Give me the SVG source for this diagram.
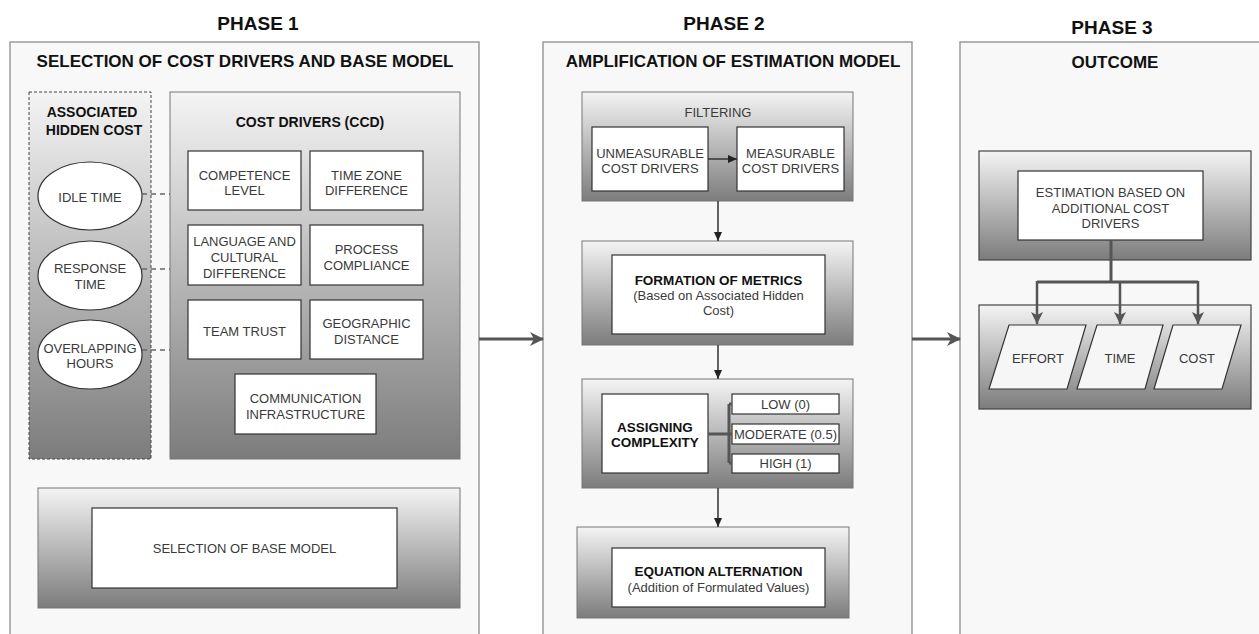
<svg xmlns="http://www.w3.org/2000/svg" width="1259" height="634" viewBox="0 0 1259 634">
<defs>
<linearGradient id="g" x1="0" y1="0" x2="0" y2="1">
<stop offset="0" stop-color="#f4f4f4"/>
<stop offset="1" stop-color="#7c7c7c"/>
</linearGradient>
<marker id="big" markerUnits="userSpaceOnUse" markerWidth="14" markerHeight="14" refX="13" refY="7" orient="auto">
<path d="M0,0 L14,7 L0,14 L4,7 Z" fill="#555"/>
</marker>
<marker id="sm" markerUnits="userSpaceOnUse" markerWidth="10" markerHeight="10" refX="9" refY="5" orient="auto">
<path d="M0,1 L9,5 L0,9 Z" fill="#222"/>
</marker>
<marker id="md" markerUnits="userSpaceOnUse" markerWidth="14" markerHeight="14" refX="12" refY="7" orient="auto">
<path d="M0,1 L12,7 L0,13 L3,7 Z" fill="#555"/>
</marker>
<style>
.panel{fill:#f8f8f8;stroke:#9a9a9a;stroke-width:1.5}
.grad{fill:url(#g);stroke:#777;stroke-width:1}
.gradd{fill:url(#g);stroke:#444;stroke-width:1.2}
.box{fill:#fff;stroke:#333;stroke-width:1.2}
.ell{fill:#fff;stroke:#333;stroke-width:1.2}
.para{fill:#f6f6f6;stroke:#333;stroke-width:1.2}
text{font-family:"Liberation Sans",Arial,sans-serif}
.ph{font-size:19px;font-weight:bold;fill:#111;text-anchor:middle}
.h1{font-size:17px;font-weight:bold;fill:#111;text-anchor:middle}
.h2{font-size:14px;font-weight:bold;fill:#111;text-anchor:middle}
.hb{font-size:13.5px;font-weight:bold;fill:#111;text-anchor:middle}
.t{font-size:13px;fill:#3a3a3a;text-anchor:middle}
.conn line,.conn path{fill:none}
</style>
</defs>

<g id="phase1">
<rect class="panel" x="10" y="42" width="469" height="600"/>
<text class="ph" x="258" y="30">PHASE 1</text>
<text class="h1" x="245" y="67">SELECTION OF COST DRIVERS AND BASE MODEL</text>
</g>
<g id="phase2">
<rect class="panel" x="543" y="42" width="369" height="600"/>
<text class="ph" x="724" y="30">PHASE 2</text>
<text class="h1" x="733" y="67">AMPLIFICATION OF ESTIMATION MODEL</text>
</g>
<g id="phase3">
<rect class="panel" x="960" y="42" width="310" height="600"/>
<text class="ph" x="1112" y="34">PHASE 3</text>
<text class="h1" x="1115" y="68">OUTCOME</text>
</g>

<g id="hidden-cost">
<rect x="29" y="92" width="122" height="367" fill="url(#g)" stroke="#444" stroke-width="1" stroke-dasharray="3 2"/>
<text class="h2" x="92" y="117">ASSOCIATED</text>
<text class="h2" x="94" y="135">HIDDEN COST</text>
</g>
<g id="idle-time">
<ellipse class="ell" cx="90" cy="196" rx="52" ry="34"/>
<text class="t" x="90" y="202">IDLE TIME</text>
</g>
<g id="response-time">
<ellipse class="ell" cx="90" cy="275.5" rx="52" ry="34.5"/>
<text class="t" x="90" y="273">RESPONSE</text>
<text class="t" x="90" y="289">TIME</text>
</g>
<g id="overlapping-hours">
<ellipse class="ell" cx="90" cy="354.5" rx="52" ry="34.5"/>
<text class="t" x="90" y="353">OVERLAPPING</text>
<text class="t" x="90" y="368">HOURS</text>
</g>

<g id="cost-drivers">
<rect class="grad" x="170" y="92" width="290" height="367"/>
<text class="h2" x="310" y="127">COST DRIVERS (CCD)</text>
</g>
<g id="competence">
<rect class="box" x="188" y="151" width="113" height="59"/>
<text class="t" x="244.5" y="180">COMPETENCE</text>
<text class="t" x="244.5" y="195">LEVEL</text>
</g>
<g id="timezone">
<rect class="box" x="310" y="151" width="113" height="59"/>
<text class="t" x="366.5" y="180">TIME ZONE</text>
<text class="t" x="366.5" y="195">DIFFERENCE</text>
</g>
<g id="language">
<rect class="box" x="188" y="225" width="113" height="60"/>
<text class="t" x="244.5" y="246">LANGUAGE AND</text>
<text class="t" x="244.5" y="262">CULTURAL</text>
<text class="t" x="244.5" y="278">DIFFERENCE</text>
</g>
<g id="process">
<rect class="box" x="310" y="225" width="113" height="60"/>
<text class="t" x="366.5" y="254">PROCESS</text>
<text class="t" x="366.5" y="270">COMPLIANCE</text>
</g>
<g id="team-trust">
<rect class="box" x="188" y="300" width="113" height="59"/>
<text class="t" x="244.5" y="336">TEAM TRUST</text>
</g>
<g id="geographic">
<rect class="box" x="310" y="300" width="113" height="59"/>
<text class="t" x="366.5" y="328">GEOGRAPHIC</text>
<text class="t" x="366.5" y="344">DISTANCE</text>
</g>
<g id="communication">
<rect class="box" x="235" y="374" width="141" height="60"/>
<text class="t" x="305.5" y="403">COMMUNICATION</text>
<text class="t" x="305.5" y="419">INFRASTRUCTURE</text>
</g>

<g id="base-model">
<rect class="grad" x="38" y="488" width="422" height="120"/>
<rect class="box" x="92" y="508" width="305" height="80"/>
<text class="t" x="244.5" y="553">SELECTION OF BASE MODEL</text>
</g>

<g id="filtering">
<rect class="grad" x="582" y="92" width="271" height="109"/>
<text class="t" x="718" y="117">FILTERING</text>
</g>
<g id="unmeasurable">
<rect class="box" x="592" y="127" width="116" height="64"/>
<text class="t" x="650" y="158">UNMEASURABLE</text>
<text class="t" x="650" y="173">COST DRIVERS</text>
</g>
<g id="measurable">
<rect class="box" x="737" y="127" width="107" height="64"/>
<text class="t" x="790.5" y="158">MEASURABLE</text>
<text class="t" x="790.5" y="173">COST DRIVERS</text>
</g>

<g id="formation">
<rect class="grad" x="582" y="241" width="271" height="104"/>
<rect class="box" x="612" y="255" width="213" height="79"/>
<text class="hb" x="718.5" y="285">FORMATION OF METRICS</text>
<text class="t" x="718.5" y="300">(Based on Associated Hidden</text>
<text class="t" x="718.5" y="315">Cost)</text>
</g>

<g id="assigning">
<rect class="grad" x="582" y="379" width="271" height="109"/>
<rect class="box" x="602" y="394" width="106" height="79"/>
<text class="hb" x="655" y="432">ASSIGNING</text>
<text class="hb" x="655" y="447">COMPLEXITY</text>
</g>
<g id="low">
<rect class="box" x="732" y="394" width="107" height="20"/>
<text class="t" x="785.5" y="409">LOW (0)</text>
</g>
<g id="moderate">
<rect class="box" x="732" y="424" width="107" height="20"/>
<text class="t" x="785.5" y="438.5">MODERATE (0.5)</text>
</g>
<g id="high">
<rect class="box" x="732" y="454" width="107" height="19"/>
<text class="t" x="785.5" y="468">HIGH (1)</text>
</g>

<g id="equation">
<rect class="grad" x="577" y="527" width="272" height="91"/>
<rect class="box" x="612" y="548" width="213" height="59"/>
<text class="hb" x="718.5" y="576">EQUATION ALTERNATION</text>
<text class="t" x="718.5" y="592">(Addition of Formulated Values)</text>
</g>

<g id="estimation">
<rect class="gradd" x="979" y="151" width="272" height="109"/>
<rect class="box" x="1018" y="171" width="185" height="69"/>
<text class="t" x="1110.5" y="197">ESTIMATION BASED ON</text>
<text class="t" x="1110.5" y="213">ADDITIONAL COST</text>
<text class="t" x="1110.5" y="228">DRIVERS</text>
</g>

<g id="outputs">
<rect class="gradd" x="979" y="305" width="272" height="104"/>
</g>
<g id="effort">
<polygon class="para" points="1009,325 1086,325 1067,389 989,389"/>
<text class="t" x="1038" y="363">EFFORT</text>
</g>
<g id="time">
<polygon class="para" points="1097,325 1163,325 1145,389 1077,389"/>
<text class="t" x="1120" y="363">TIME</text>
</g>
<g id="cost">
<polygon class="para" points="1173,325 1241,325 1222,389 1154,389"/>
<text class="t" x="1197" y="363">COST</text>
</g>

<g id="connectors" class="conn">
<line x1="142" y1="194" x2="170" y2="194" stroke="#666" stroke-width="1.5" stroke-dasharray="5 4"/>
<line x1="142" y1="269" x2="170" y2="269" stroke="#666" stroke-width="1.5" stroke-dasharray="5 4"/>
<line x1="142" y1="350" x2="170" y2="350" stroke="#666" stroke-width="1.5" stroke-dasharray="5 4"/>
<line x1="479" y1="339" x2="543" y2="339" stroke="#555" stroke-width="3" marker-end="url(#big)"/>
<line x1="912" y1="339" x2="960" y2="339" stroke="#555" stroke-width="3" marker-end="url(#big)"/>
<line x1="708" y1="159" x2="737" y2="159" stroke="#333" stroke-width="1.5" marker-end="url(#sm)"/>
<line x1="718" y1="201" x2="718" y2="241" stroke="#333" stroke-width="1.5" marker-end="url(#sm)"/>
<line x1="718" y1="345" x2="718" y2="379" stroke="#333" stroke-width="1.5" marker-end="url(#sm)"/>
<line x1="718" y1="488" x2="718" y2="527" stroke="#333" stroke-width="1.5" marker-end="url(#sm)"/>
<path d="M708,434 H729 M729,404 V463 M729,404 H732 M729,434 H732 M729,463 H732" stroke="#555" stroke-width="3"/>
<path d="M1111,240 V282 M1037,282 H1198" stroke="#555" stroke-width="3"/>
<line x1="1037" y1="281" x2="1037" y2="324" stroke="#555" stroke-width="2.5" marker-end="url(#md)"/>
<line x1="1120" y1="281" x2="1120" y2="324" stroke="#555" stroke-width="2.5" marker-end="url(#md)"/>
<line x1="1198" y1="281" x2="1198" y2="324" stroke="#555" stroke-width="2.5" marker-end="url(#md)"/>
</g>
</svg>
